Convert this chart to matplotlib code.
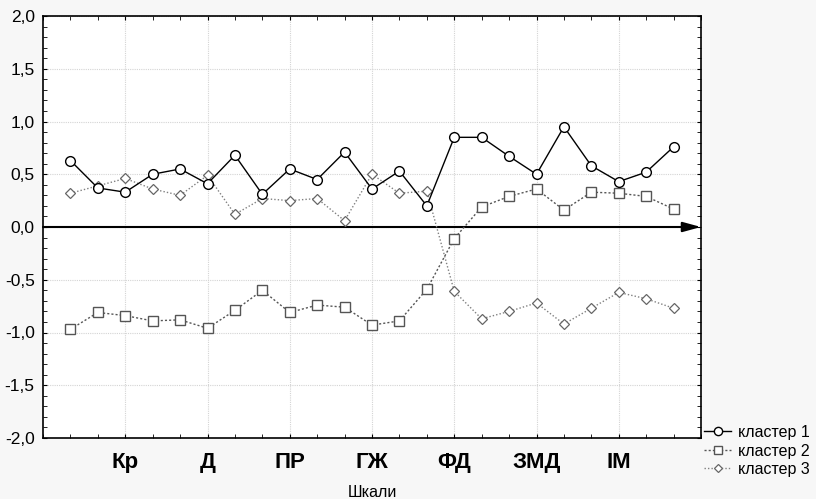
import numpy as np
import matplotlib
matplotlib.use("Agg")
import matplotlib.pyplot as plt
from matplotlib.ticker import MultipleLocator, FuncFormatter

plt.rcParams['font.family'] = ['Liberation Sans', 'DejaVu Sans']

# scale positions 1..23
x = np.arange(1, 24)

cluster1 = [0.63, 0.37, 0.33, 0.50, 0.55, 0.41, 0.68, 0.31, 0.55, 0.45,
            0.71, 0.36, 0.53, 0.20, 0.85, 0.85, 0.67, 0.50, 0.95, 0.58,
            0.43, 0.52, 0.76]
cluster2 = [-0.97, -0.81, -0.84, -0.89, -0.88, -0.96, -0.79, -0.60, -0.81, -0.74,
            -0.76, -0.93, -0.89, -0.59, -0.11, 0.19, 0.29, 0.36, 0.16, 0.33,
            0.32, 0.29, 0.17]
cluster3 = [0.32, 0.39, 0.46, 0.36, 0.30, 0.49, 0.12, 0.27, 0.25, 0.27,
            0.06, 0.50, 0.32, 0.34, -0.61, -0.87, -0.80, -0.72, -0.92, -0.77,
            -0.62, -0.68, -0.77]

tick_pos = [3, 6, 9, 12, 15, 18, 21]
tick_labels = ["Кр", "Д", "ПР", "ГЖ", "ФД", "ЗМД", "ІМ"]

fig = plt.figure(figsize=(8.16, 4.99), dpi=100, facecolor='#f7f7f7')
ax = fig.add_axes([43/816, 61/499, 658/816, 422/499])
ax.set_facecolor('white')

# grid
ax.grid(True, which='major', color='#d4d4d4', linestyle=(0, (1, 1)), linewidth=0.8)
ax.set_axisbelow(True)

# zero axis with arrow
ax.annotate('', xy=(24, 0), xytext=(0, 0),
            arrowprops=dict(arrowstyle='-|>,head_length=1.1,head_width=0.3',
                            color='black', lw=1.5, shrinkA=0, shrinkB=0),
            zorder=2)

ax.plot(x, cluster1, color='black', linestyle='-', linewidth=1.0,
        marker='o', markersize=7, markerfacecolor='white',
        markeredgecolor='black', markeredgewidth=1.0, label='кластер 1', zorder=5)
ax.plot(x, cluster2, color='#555555', linestyle=(0, (1.5, 1.5)), linewidth=1.0,
        marker='s', markersize=6.5, markerfacecolor='white',
        markeredgecolor='#555555', markeredgewidth=1.0, label='кластер 2', zorder=4)
ax.plot(x, cluster3, color='#808080', linestyle=(0, (1, 1.5)), linewidth=1.0,
        marker='D', markersize=5, markerfacecolor='white',
        markeredgecolor='#666666', markeredgewidth=0.9, label='кластер 3', zorder=4)

ax.set_xlim(0, 24)
ax.set_ylim(-2, 2)

ax.set_xticks(tick_pos)
ax.set_xticklabels(tick_labels, fontsize=16, fontweight='bold')
ax.xaxis.set_minor_locator(MultipleLocator(1))
ax.yaxis.set_major_locator(MultipleLocator(0.5))
ax.yaxis.set_minor_locator(MultipleLocator(0.1))
ax.yaxis.set_major_formatter(FuncFormatter(lambda v, p: f"{v:.1f}".replace('.', ',')))

ax.tick_params(axis='both', which='both', direction='in', top=True, right=True,
               color='black')
ax.tick_params(axis='both', which='major', length=3)
ax.tick_params(axis='both', which='minor', length=3)
ax.tick_params(axis='y', labelsize=12.5, pad=6)
ax.tick_params(axis='x', pad=10)

for s in ax.spines.values():
    s.set_linewidth(1.2)
    s.set_color('black')

ax.set_xlabel("Шкали", fontsize=11.5, labelpad=9)

fig.legend(loc='upper left', bbox_to_anchor=(704/816, 1 - 425/499),
           frameon=False, fontsize=11.5, handlelength=1.7, handletextpad=0.4,
           labelspacing=0.22, borderaxespad=0, borderpad=0, markerscale=0.85)

fig.savefig("out.png", dpi=100, facecolor=fig.get_facecolor())
